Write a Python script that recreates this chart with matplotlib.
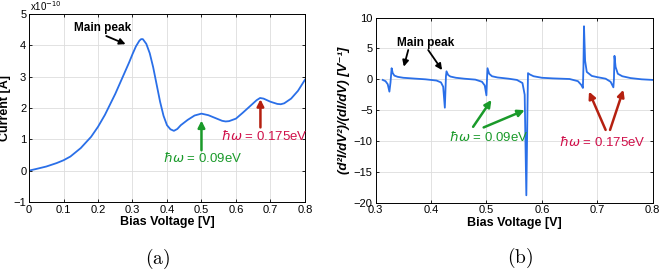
import matplotlib.pyplot as plt
import numpy as np

plt.rcParams['font.family'] = ['Liberation Sans', 'DejaVu Sans']
plt.rcParams['mathtext.fontset'] = 'dejavusans'

# panel (a): I-V curve, current in units of 1e-10 A
bias_a = [0.0, 0.02, 0.05, 0.08, 0.1, 0.12, 0.15, 0.18, 0.2, 0.22, 0.25, 0.27,
          0.29, 0.3, 0.31, 0.32, 0.325, 0.33, 0.34, 0.35, 0.36, 0.37, 0.38, 0.39,
          0.4, 0.41, 0.42, 0.43, 0.44, 0.46, 0.48, 0.5, 0.52, 0.54, 0.56, 0.57,
          0.58, 0.6, 0.62, 0.64, 0.66, 0.67, 0.68, 0.7, 0.72, 0.73, 0.74, 0.76,
          0.78, 0.8]
current = [0.0, 0.05, 0.13, 0.24, 0.33, 0.45, 0.72, 1.08, 1.4, 1.78, 2.45, 2.95,
           3.45, 3.72, 3.97, 4.15, 4.2, 4.2, 4.05, 3.75, 3.3, 2.75, 2.2, 1.75,
           1.45, 1.32, 1.27, 1.33, 1.45, 1.62, 1.76, 1.82, 1.77, 1.68, 1.59, 1.57,
           1.58, 1.66, 1.85, 2.05, 2.25, 2.32, 2.3, 2.2, 2.13, 2.12, 2.15, 2.3,
           2.55, 2.9]

# panel (b): normalised second derivative
bias_b = [0.313, 0.318, 0.322, 0.325, 0.327, 0.329, 0.331, 0.334, 0.34, 0.35,
          0.37, 0.39, 0.41, 0.418, 0.422, 0.425, 0.427, 0.428, 0.431, 0.435,
          0.445, 0.46, 0.48, 0.492, 0.497, 0.5, 0.501, 0.502, 0.505, 0.51,
          0.52, 0.54, 0.555, 0.565, 0.569, 0.572, 0.574, 0.575, 0.578, 0.585,
          0.6, 0.62, 0.65, 0.665, 0.671, 0.674, 0.675, 0.676, 0.678, 0.681,
          0.69, 0.7, 0.715, 0.724, 0.729, 0.73, 0.731, 0.733, 0.737, 0.745,
          0.76, 0.78, 0.8]
ratio = [-0.1, -0.3, -0.8, -2.0, -0.5, 1.8, 1.0, 0.6, 0.4, 0.25,
         0.12, 0.0, -0.2, -0.5, -1.2, -4.6, 0.5, 1.3, 0.7, 0.45,
         0.25, 0.1, -0.05, -0.4, -1.0, -2.6, 0.0, 1.8, 0.9, 0.5,
         0.3, 0.1, -0.1, -0.6, -2.5, -18.8, -5.0, 1.0, 0.8, 0.5,
         0.25, 0.15, 0.05, -0.3, -0.9, -1.4, 2.0, 8.6, 3.0, 1.2,
         0.55, 0.35, 0.1, -0.4, -1.3, 0.0, 3.8, 2.0, 0.9, 0.5,
         0.2, 0.0, -0.1]

blue = '#2a6fe8'
green = '#1a9a2a'
darkred = '#b52010'
crimson = '#d0104a'

fig = plt.figure(figsize=(6.6, 2.71), dpi=100)
ax1 = fig.add_axes([0.044, 0.255, 0.418, 0.693])
ax2 = fig.add_axes([0.569, 0.252, 0.42, 0.683])

for ax in (ax1, ax2):
    ax.grid(True, color='#dddddd', linewidth=0.6)
    ax.set_axisbelow(True)
    ax.tick_params(direction='in', top=True, right=True, labelsize=8,
                   length=2.5, width=0.6, pad=2)
    for s in ax.spines.values():
        s.set_linewidth(0.7)
    ax.set_xlabel('Bias Voltage [V]', fontsize=9, fontweight='bold', labelpad=1)


def arrow(ax, start, end, color, lw=1.8, ms=10):
    ax.annotate('', xy=end, xytext=start,
                arrowprops=dict(arrowstyle='-|>', color=color, lw=lw,
                                shrinkA=0, shrinkB=0, mutation_scale=ms))


# (a)
ax1.plot(bias_a, current, color=blue, lw=1.3)
ax1.set_xlim(0, 0.8)
ax1.set_ylim(-1, 5)
ax1.set_xticks(np.arange(0, 0.81, 0.1))
ax1.set_xticklabels(['0', '0.1', '0.2', '0.3', '0.4', '0.5', '0.6', '0.7', '0.8'])
ax1.set_yticks(range(-1, 6))
ax1.set_ylabel('Current [A]', fontsize=9, fontweight='bold', labelpad=2)
ax1.text(0.005, 1.005, 'x10$^{-10}$', transform=ax1.transAxes, fontsize=7,
         ha='left', va='bottom')
ax1.text(0.213, 4.55, 'Main peak', fontsize=8.5, fontweight='bold',
         ha='center', va='center')
arrow(ax1, (0.224, 4.3), (0.28, 4.04), 'black', lw=1.3, ms=9)
arrow(ax1, (0.5, 0.65), (0.5, 1.6), green)
ax1.text(0.503, 0.39, r'$\hbar\omega$ = 0.09eV', color=green, fontsize=9.5,
         ha='center', va='center')
arrow(ax1, (0.671, 1.38), (0.671, 2.28), darkred)
ax1.text(0.683, 1.09, r'$\hbar\omega$ = 0.175eV', color=crimson, fontsize=9.5,
         ha='center', va='center')

# (b)
ax2.plot(bias_b, ratio, color=blue, lw=1.3)
ax2.set_xlim(0.3, 0.8)
ax2.set_ylim(-20, 10)
ax2.set_xticks(np.arange(0.3, 0.81, 0.1))
ax2.set_xticklabels(['0.3', '0.4', '0.5', '0.6', '0.7', '0.8'])
ax2.set_yticks(range(-20, 11, 5))
ax2.set_ylabel('(d²I/dV²)/(dI/dV) [V⁻¹]', fontsize=9.5, fontweight='bold',
               style='italic', labelpad=3)
ax2.text(0.391, 5.95, 'Main peak', fontsize=8.5, fontweight='bold',
         ha='center', va='center')
arrow(ax2, (0.359, 4.75), (0.351, 2.05), 'black', lw=1.3, ms=9)
arrow(ax2, (0.395, 4.75), (0.42, 1.5), 'black', lw=1.3, ms=9)
arrow(ax2, (0.476, -7.7), (0.509, -3.35), green)
arrow(ax2, (0.495, -7.8), (0.569, -5.0), green)
ax2.text(0.504, -9.3, r'$\hbar\omega$ = 0.09eV', color=green, fontsize=9.5,
         ha='center', va='center')
arrow(ax2, (0.715, -8.2), (0.685, -2.0), darkred)
arrow(ax2, (0.723, -8.2), (0.747, -1.7), darkred)
ax2.text(0.709, -10.1, r'$\hbar\omega$ = 0.175eV', color=crimson, fontsize=9.5,
         ha='center', va='center')

# captions
plt.rcParams['mathtext.fontset'] = 'cm'
fig.text(0.238, 0.045, r'$\mathrm{(a)}$', fontsize=14, ha='center', va='center')
fig.text(0.788, 0.05, r'$\mathrm{(b)}$', fontsize=14, ha='center', va='center')

fig.savefig('out.png', dpi=100)
